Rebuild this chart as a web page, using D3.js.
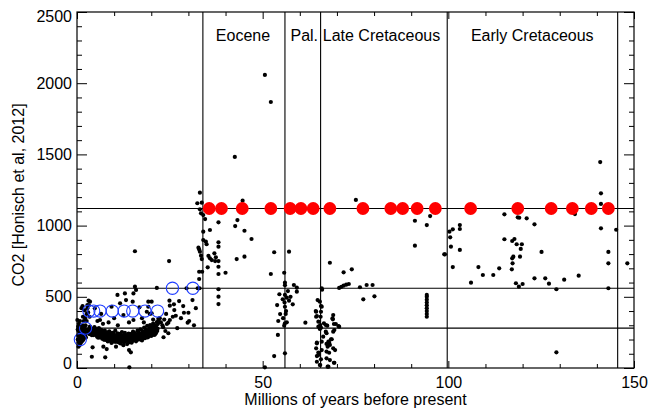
<!DOCTYPE html>
<html>
<head>
<meta charset="utf-8">
<script src="https://cdn.jsdelivr.net/npm/d3@7"></script>
<style>
  html, body { margin: 0; padding: 0; background: #fff; }
  svg { display: block; }
  text { font-family: "Liberation Sans", Arial, Helvetica, sans-serif; fill: #000; }
</style>
</head>
<body>
<svg id="chart" width="650" height="411"></svg>
<script>
// ---------------- data ----------------
const xMajorTicks = [0, 50, 100, 150];
const yMajorTicks = [0, 500, 1000, 1500, 2000, 2500];
const refLevels = [280, 560, 1120];
const boundaries = [33.9, 56.0, 65.6, 99.7, 145.6];
const periodNames = ["Eocene", "Pal.", "Late Cretaceous", "Early Cretaceous"];
const periodCenters = [44.7, 61.2, 82.0, 122.6];

const redAge = [35.6, 38.9, 44.5, 52.2, 57.4, 60.3, 63.6, 68.1, 77.0, 84.5, 87.7, 91.6, 96.5, 106.0, 118.7, 127.7, 133.4, 138.5, 143.1];
const redCO2 = [1120, 1120, 1120, 1120, 1120, 1120, 1120, 1120, 1120, 1120, 1120, 1120, 1120, 1120, 1120, 1120, 1120, 1120, 1120];

const blueAge = [0.9, 2.3, 3.2, 4.5, 6.2, 9.5, 12.7, 15.0, 18.3, 21.7, 25.7, 31.2];
const blueCO2 = [200, 280, 400, 400, 400, 400, 400, 400, 400, 400, 560, 560];

// proxy points [age (Myr), CO2 (ppm)]
const proxyRecent = [
  [0.2,200],[0.3,230],[0.4,260],[0.5,180],[0.6,285],[0.7,215],[0.8,250],[0.9,170],[1.0,275],[1.1,240],
  [1.2,205],[1.3,290],[1.4,260],[1.5,225],[1.6,300],[1.7,270],[1.8,245],[1.9,210],[2.0,285],[2.1,260],
  [2.2,235],[2.3,300],[2.4,270],[2.5,250],[0.3,290],[0.5,310],[0.8,330],[1.1,180],[1.4,190],[0.7,160],
  [0.4,150],[1.8,330],[2.2,350],[2.6,380],[1.2,420],[1.6,360],[2.0,405],[2.8,420],[3.0,390],[3.2,440],
  [2.6,330],[3.4,360],[0.1,337],[1.5,435],[3.1,473],[0.6,205],[1.0,228],[1.3,252],[1.7,198],[2.1,224],
  [0.9,265],[0.2,270],[1.9,275],[2.4,215]
];
const proxyMiocene = [
  [3.0,270],[3.2,250],[3.4,285],[3.6,240],[3.8,265],[4.0,230],[4.2,275],[4.4,255],[4.6,240],[4.8,280],
  [5.0,235],[5.2,260],[5.4,220],[5.6,250],[5.8,270],[6.0,230],[6.2,215],[6.4,255],[6.6,240],[6.8,205],
  [7.0,260],[7.2,225],[7.4,245],[7.6,210],[7.8,235],[8.0,195],[8.2,250],[8.4,220],[8.6,205],[8.8,240],
  [9.0,190],[9.2,230],[9.4,215],[9.6,200],[9.8,245],[10.0,185],[10.2,225],[10.4,210],[10.6,195],[10.8,235],
  [11.0,205],[11.2,180],[11.4,220],[11.6,240],[11.8,195],[12.0,210],[12.2,225],[12.4,185],[12.6,200],[12.8,235],
  [13.0,215],[13.2,190],[13.4,205],[13.6,230],[13.8,195],[14.0,180],[14.2,220],[14.4,200],[14.6,240],[14.8,210],
  [15.0,190],[15.2,225],[15.4,205],[15.6,245],[15.8,215],[16.0,195],[16.2,230],[16.4,210],[16.6,250],[16.8,220],
  [17.0,200],[17.2,240],[17.4,215],[17.6,260],[17.8,230],[18.0,210],[18.2,250],[18.4,225],[18.6,270],[18.8,240],
  [19.0,215],[19.2,260],[19.4,235],[19.6,280],[19.8,250],[20.0,225],[20.2,270],[20.4,245],[20.6,290],[20.8,255],
  [21.0,235],[21.2,280],[21.4,300],[21.6,260],[21.8,310],
  [3.1,262],[3.3,238],[3.5,291],[3.7,252],[3.9,276],[4.1,244],[4.3,268],[4.5,231],[4.7,287],[4.9,249],
  [5.1,272],[5.3,236],[5.5,258],[5.7,213],[5.9,281],[6.1,247],[6.3,226],[6.5,268],[6.7,219],[6.9,252],
  [7.1,236],[7.3,198],[7.5,262],[7.7,227],[7.9,214],[8.1,243],[8.3,186],[8.5,232],[8.7,258],[8.9,207],
  [9.1,222],[9.3,176],[9.5,247],[9.7,213],[9.9,229],[10.1,198],[10.3,262],[10.5,184],[10.7,219],[10.9,243],
  [11.1,193],[11.3,231],[11.5,206],[11.7,172],[11.9,226],[12.1,252],[12.3,198],[12.5,214],[12.7,182],[12.9,246],
  [13.1,204],[13.3,228],[13.5,168],[13.7,216],[13.9,241],[14.1,193],[14.3,209],[14.5,232],[14.7,178],[14.9,221],
  [15.1,256],[15.3,198],[15.5,214],[15.7,236],[15.9,187],[16.1,223],[16.3,262],[16.5,201],[16.7,238],[16.9,214],
  [17.1,272],[17.3,226],[17.5,193],[17.7,248],[17.9,231],[18.1,284],[18.3,209],[18.5,256],[18.7,232],[18.9,296],
  [19.1,243],[19.3,221],[19.5,268],[19.7,302],[19.9,238],[20.1,284],[20.3,256],[20.5,312],[20.7,232],[20.9,271],
  [21.1,298],[21.3,246],[21.5,322],[21.7,276],[21.9,345],
  [4.0,79],[4.2,145],[7.1,150],[8.0,133],[7.6,75],[14.0,126],[14.5,110],[14.1,5],[12.5,160],[10.5,150],
  [2.8,442],[3.5,466],[4.8,419],[5.5,330],[6.2,337],[7.0,310],[8.5,320],[9.3,430],[10.0,350],[10.9,513],
  [11.6,454],[12.9,524],[13.2,477],[12.5,372],[14.0,320],[15.6,571],[15.9,548],[15.2,524],[15.0,466],[15.2,337],
  [16.8,426],[17.5,350],[18.0,320],[19.2,466],[20.1,466],[21.5,562],[18.8,395],[19.6,380],[20.5,340],[22.0,330],
  [15.6,820],[11.0,300],[6.5,380],[19.2,430],[20.1,384]
];
const proxyOligocene = [
  [22.3,350],[22.6,320],[23.0,300],[23.2,286],[23.3,216],[23.5,340],[23.8,260],[24.0,380],[24.2,309],[24.6,318],
  [24.6,244],[24.8,751],[24.9,473],[25.0,438],[25.0,337],[25.8,360],[26.1,447],[26.2,407],[26.6,367],[27.0,280],
  [27.5,470],[28.0,350],[28.6,435],[28.8,388],[29.5,560],[29.8,318],[30.0,388],[30.2,330],[31.1,477],[31.5,300],
  [32.0,420],[32.5,560],[33.0,560]
];
const proxyEocene = [
  [33.1,1231],[32.4,1157],[33.6,1161],[33.1,1114],[33.4,1086],[34.0,1074],[34.5,1046],[38.1,1023],[35.8,969],[34.0,957],
  [34.0,899],[34.7,887],[34.9,869],[32.7,845],[32.9,833],[38.1,883],[38.1,852],[33.4,789],[33.6,765],[35.4,787],
  [35.8,770],[36.3,758],[37.0,805],[37.4,777],[37.2,751],[38.1,751],[38.1,711],[38.1,660],[35.2,707],[32.9,676],
  [33.7,676],[32.9,625],[40.0,669],[38.1,553],[38.1,501],[38.1,449],[42.6,997],[43.2,1039],[45.1,964],[47.0,906],
  [44.6,1175],[43.0,765],[45.1,782],[42.5,1482],[50.6,2058],[52.2,1868],[33.1,817]
];
const proxyPaleocene = [
  [53.1,813],[57.1,817],[52.2,660],[55.8,669],[56.0,599],[56.0,581],[58.4,583],[59.2,564],[59.2,536],[54.5,518],
  [56.0,513],[55.4,482],[56.5,494],[57.1,473],[53.9,442],[56.0,430],[58.1,447],[54.7,379],[54.2,330],[56.0,314],
  [56.5,321],[55.8,297],[61.5,318],[54.1,232],[56.0,103],[53.1,84],[50.6,5],[56.2,380],[55.9,460],[56.8,540],
  [56.3,400],[55.5,350],[57.5,500]
];
const proxyLateCret = [
  [64.8,477],[65.4,466],[65.9,431],[64.4,395],[65.7,395],[64.4,360],[65.6,360],[69.0,372],[68.9,342],[65.0,325],
  [66.5,314],[65.0,290],[67.4,297],[69.2,309],[70.6,290],[65.4,274],[67.2,244],[69.0,255],[66.3,220],[68.6,202],
  [64.6,173],[65.9,185],[67.7,185],[68.1,162],[64.4,138],[65.9,126],[67.2,115],[69.0,138],[65.0,91],[67.2,68],
  [64.6,44],[69.2,37],[65.4,21],[67.7,9],
  [65.9,560],[66.0,550],[65.7,435],[64.3,400],[64.6,365],[68.8,349],[65.5,302],[65.7,283],[70.4,295],[67.0,302],
  [67.0,255],[69.3,267],[69.7,309],[68.4,202],[67.9,178],[64.6,178],[67.2,169],[67.5,150],[69.5,126],[65.0,108],
  [64.6,84],[67.9,107],[65.7,61],[68.1,56],[69.3,37],[65.5,21],[67.5,9],
  [75.1,1180],[91.0,1034],[94.2,1004],[95.1,1067],[91.0,859],[98.9,798],[68.1,739],[71.8,672],[74.0,693],[70.6,562],
  [71.2,570],[71.8,578],[72.5,585],[73.2,590],[76.2,567],[78.0,583],[79.6,583],[77.1,482],[80.1,503],
  [94.2,360],[94.2,380],[94.2,400],[94.2,420],[94.2,440],[94.2,460],[94.2,480],[94.2,500],[94.2,513]
];
const proxyEarlyCret = [
  [99.1,798],[100.3,957],[100.5,918],[101.2,974],[100.7,852],[101.2,709],[103.1,1004],[103.1,976],[103.1,829],[106.1,599],
  [108.1,709],[109.3,653],[112.1,653],[113.7,700],[115.1,1079],[115.1,904],[117.2,892],[117.8,906],[117.2,770],[117.5,782],
  [117.3,735],[117.1,693],[118.4,869],[118.2,595],[119.0,571],[120.0,590],[118.7,1058],[119.1,1055],[119.8,869],[119.5,836],
  [119.3,782],[121.1,1051],[123.2,1009],[123.2,630],[125.1,815],[126.1,630],[127.1,592],[129.1,553],[131.2,620],[134.1,1081],
  [135.1,648],[141.1,1227],[141.1,1152],[141.1,981],[143.1,815],[143.1,735],[143.1,560],[145.2,971],[148.2,735],[140.9,1446],
  [129.1,110]
];

// ---------------- drawing ----------------
const svg = d3.select("#chart");
const x = d3.scaleLinear().domain([0, 150]).range([77, 634]);
const y = d3.scaleLinear().domain([0, 2500]).range([368, 12]);
const font = 16;

const xMinor = d3.range(0, 151, 10).filter(v => !xMajorTicks.includes(v));
const yMinor = d3.range(0, 2501, 100).filter(v => !yMajorTicks.includes(v));

// reference lines
svg.append("g").selectAll("line").data(refLevels).join("line")
  .attr("x1", x(0)).attr("x2", x(150))
  .attr("y1", d => y(d)).attr("y2", d => y(d))
  .attr("stroke", "#000").attr("stroke-width", 1.1);

svg.append("g").selectAll("line").data(boundaries).join("line")
  .attr("x1", d => x(d)).attr("x2", d => x(d))
  .attr("y1", y(0)).attr("y2", y(2500))
  .attr("stroke", "#000").attr("stroke-width", 1.1);

// black proxy dots
const allProxy = [].concat(proxyRecent, proxyMiocene, proxyOligocene, proxyEocene, proxyPaleocene, proxyLateCret, proxyEarlyCret);
svg.append("g").selectAll("circle").data(allProxy).join("circle")
  .attr("cx", d => x(d[0])).attr("cy", d => y(d[1])).attr("r", 2.1)
  .attr("fill", "#000");

// red filled circles
svg.append("g").selectAll("circle").data(redAge.map((a, i) => [a, redCO2[i]])).join("circle")
  .attr("cx", d => x(d[0])).attr("cy", d => y(d[1])).attr("r", 6.4)
  .attr("fill", "#ff0000");

// blue open circles
svg.append("g").selectAll("circle").data(blueAge.map((a, i) => [a, blueCO2[i]])).join("circle")
  .attr("cx", d => x(d[0])).attr("cy", d => y(d[1])).attr("r", 6.1)
  .attr("fill", "none").attr("stroke", "#1e3cff").attr("stroke-width", 1.1);

// axes
function styleAxis(g) {
  g.select(".domain").remove();
  g.selectAll("line").attr("stroke", "#000");
  g.selectAll("text").attr("font-size", font).attr("font-family", '"Liberation Sans", Arial, sans-serif');
}
// bottom
svg.append("g").attr("transform", `translate(0,${y(0)})`)
  .call(d3.axisBottom(x).tickValues(xMajorTicks).tickSize(-7).tickPadding(9).tickFormat(d3.format("d")))
  .call(styleAxis);
svg.append("g").attr("transform", `translate(0,${y(0)})`)
  .call(d3.axisBottom(x).tickValues(xMinor).tickSize(-4).tickFormat(""))
  .call(styleAxis);
// top
svg.append("g").attr("transform", `translate(0,${y(2500)})`)
  .call(d3.axisTop(x).tickValues(xMajorTicks).tickSize(-7).tickFormat(""))
  .call(styleAxis);
svg.append("g").attr("transform", `translate(0,${y(2500)})`)
  .call(d3.axisTop(x).tickValues(xMinor).tickSize(-4).tickFormat(""))
  .call(styleAxis);
// left
const leftAx = svg.append("g").attr("transform", `translate(${x(0)},0)`)
  .call(d3.axisLeft(y).tickValues(yMajorTicks).tickSize(-10).tickPadding(5).tickFormat(d3.format("d")))
  .call(styleAxis);
leftAx.selectAll(".tick").each(function(d) {
  const ty = y(d);
  const clamped = Math.max(Math.min(ty, 363), 16);
  d3.select(this).select("text").attr("y", clamped - ty);
});
svg.append("g").attr("transform", `translate(${x(0)},0)`)
  .call(d3.axisLeft(y).tickValues(yMinor).tickSize(-5).tickFormat(""))
  .call(styleAxis);
// right
svg.append("g").attr("transform", `translate(${x(150)},0)`)
  .call(d3.axisRight(y).tickValues(yMajorTicks).tickSize(-10).tickFormat(""))
  .call(styleAxis);
svg.append("g").attr("transform", `translate(${x(150)},0)`)
  .call(d3.axisRight(y).tickValues(yMinor).tickSize(-5).tickFormat(""))
  .call(styleAxis);

// frame
svg.append("rect")
  .attr("x", x(0)).attr("y", y(2500))
  .attr("width", x(150) - x(0)).attr("height", y(0) - y(2500))
  .attr("fill", "none").attr("stroke", "#000").attr("stroke-width", 1.2);

// period labels
svg.append("g").selectAll("text").data(periodNames).join("text")
  .attr("x", (d, i) => x(periodCenters[i])).attr("y", 41)
  .attr("text-anchor", "middle").attr("font-size", font)
  .text(d => d);

// axis titles
svg.append("text")
  .attr("x", (x(0) + x(150)) / 2).attr("y", 405)
  .attr("text-anchor", "middle").attr("font-size", font)
  .text("Millions of years before present");
svg.append("text")
  .attr("transform", `translate(24,${(y(0) + y(2500)) / 2 + 5}) rotate(-90)`)
  .attr("text-anchor", "middle").attr("font-size", font)
  .text("CO2 [Honisch et al, 2012]");
</script>
</body>
</html>
